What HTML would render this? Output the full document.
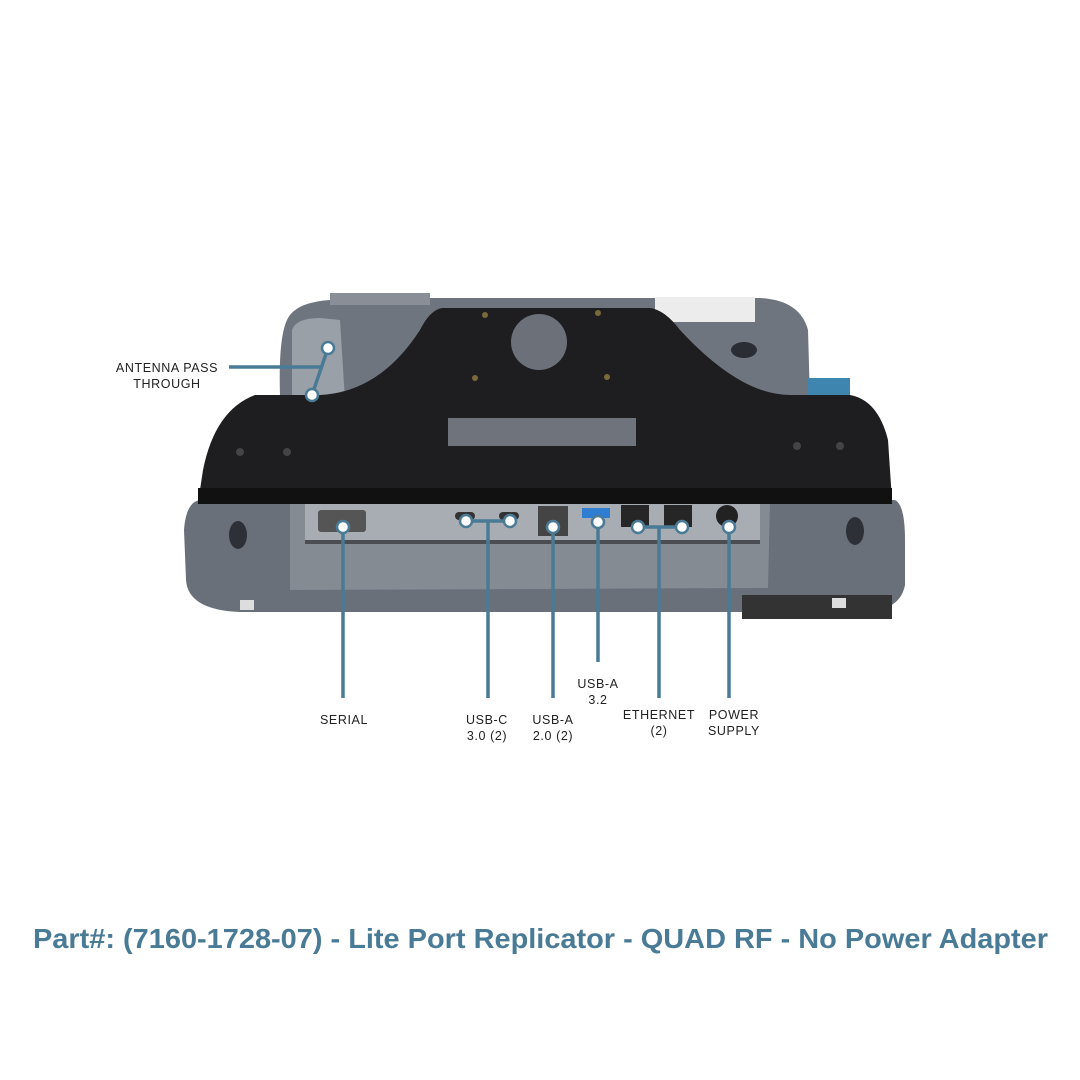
<!DOCTYPE html>
<html><head><meta charset="utf-8"><style>
html,body{margin:0;padding:0;background:#fff;}
svg{display:block}
text{font-family:"Liberation Sans",sans-serif;}
</style></head><body>
<svg width="1080" height="1080" viewBox="0 0 1080 1080" xmlns="http://www.w3.org/2000/svg">
<rect width="1080" height="1080" fill="#fff"/>
<!-- back body -->
<path d="M330 300 L430 294 L430 298 L760 298 Q800 300 808 330 L810 400 L300 400 L280 395 Q278 330 290 315 Q300 302 330 300 Z" fill="#6f757f"/>
<rect x="330" y="293" width="100" height="12" fill="#8a8f97"/>
<rect x="655" y="297" width="100" height="25" fill="#ececec"/>
<path d="M292 330 Q296 318 320 318 L340 320 L345 400 L292 400 Z" fill="#9aa0a8"/>
<rect x="808" y="378" width="42" height="40" fill="#3e86b0"/>
<ellipse cx="744" cy="350" rx="13" ry="8" fill="#2a2d33"/>
<!-- front body -->
<path d="M200 500 L895 500 Q905 505 905 540 L905 585 Q900 612 860 612 L240 612 Q188 610 186 580 L184 530 Q186 502 200 500 Z" fill="#6a707a"/>
<rect x="742" y="595" width="150" height="24" fill="#333"/>
<path d="M290 500 L770 500 L768 588 L290 590 Z" fill="#858b93"/>
<rect x="305" y="503" width="455" height="40" fill="#a8adb3"/>
<rect x="305" y="540" width="455" height="4" fill="#4a4d52"/>
<ellipse cx="238" cy="535" rx="9" ry="14" fill="#2d3036"/>
<ellipse cx="855" cy="531" rx="9" ry="14" fill="#2d3036"/>
<rect x="240" y="600" width="14" height="10" fill="#ddd"/>
<rect x="832" y="598" width="14" height="10" fill="#ddd"/>
<!-- ports -->
<rect x="318" y="510" width="48" height="22" rx="3" fill="#555"/>
<rect x="455" y="512" width="20" height="8" rx="4" fill="#333"/>
<rect x="499" y="512" width="20" height="8" rx="4" fill="#333"/>
<rect x="538" y="506" width="30" height="30" fill="#444"/>
<rect x="582" y="508" width="28" height="10" fill="#2f7dd0"/>
<rect x="621" y="505" width="28" height="22" fill="#262626"/>
<rect x="664" y="505" width="28" height="22" fill="#262626"/>
<circle cx="727" cy="516" r="11" fill="#222"/>
<!-- black plate -->
<path d="M442 308 L650 308 Q665 310 680 330 Q740 395 790 395 L850 395 Q878 400 888 440 L892 500 L198 503 L203 470 Q215 410 255 395 L320 395 Q380 392 420 330 Q430 310 442 308 Z" fill="#1e1e20"/>
<rect x="198" y="488" width="694" height="16" fill="#111"/>
<circle cx="539" cy="342" r="28" fill="#6b7079"/>
<rect x="448" y="418" width="188" height="28" fill="#6e737c"/>
<circle cx="485" cy="315" r="3" fill="#7a6a3a"/><circle cx="598" cy="313" r="3" fill="#7a6a3a"/>
<circle cx="475" cy="378" r="3" fill="#7a6a3a"/><circle cx="607" cy="377" r="3" fill="#7a6a3a"/>
<circle cx="240" cy="452" r="4" fill="#444"/><circle cx="287" cy="452" r="4" fill="#444"/>
<circle cx="797" cy="446" r="4" fill="#444"/><circle cx="840" cy="446" r="4" fill="#444"/>
<!-- connectors -->
<g stroke="#4a7b96" stroke-width="3.5" fill="none">
<line x1="229" y1="367" x2="322" y2="367"/>
<line x1="328" y1="348" x2="312" y2="395"/>
<line x1="343" y1="527" x2="343" y2="698"/>
<line x1="466" y1="521" x2="510" y2="521"/>
<line x1="488" y1="521" x2="488" y2="698"/>
<line x1="553" y1="527" x2="553" y2="698"/>
<line x1="598" y1="522" x2="598" y2="662"/>
<line x1="638" y1="527" x2="682" y2="527"/>
<line x1="659" y1="527" x2="659" y2="698"/>
<line x1="729" y1="527" x2="729" y2="698"/>
</g>
<g fill="#fff" stroke="#4a7b96" stroke-width="2.5">
<circle cx="328" cy="348" r="6"/><circle cx="312" cy="395" r="6"/>
<circle cx="343" cy="527" r="6"/><circle cx="466" cy="521" r="6"/><circle cx="510" cy="521" r="6"/>
<circle cx="553" cy="527" r="6"/><circle cx="598" cy="522" r="6"/>
<circle cx="638" cy="527" r="6"/><circle cx="682" cy="527" r="6"/><circle cx="729" cy="527" r="6"/>
</g>
<g font-size="12.5" fill="#222" text-anchor="middle" letter-spacing="0.6">
<text x="167" y="372">ANTENNA PASS</text><text x="167" y="388">THROUGH</text>
<text x="344" y="724">SERIAL</text>
<text x="487" y="724">USB-C</text><text x="487" y="740">3.0 (2)</text>
<text x="553" y="724">USB-A</text><text x="553" y="740">2.0 (2)</text>
<text x="598" y="688">USB-A</text><text x="598" y="704">3.2</text>
<text x="659" y="719">ETHERNET</text><text x="659" y="735">(2)</text>
<text x="734" y="719">POWER</text><text x="734" y="735">SUPPLY</text>
</g>
<text x="33" y="948" font-size="28" font-weight="bold" fill="#4a7b96" textLength="1015" lengthAdjust="spacingAndGlyphs">Part#:  (7160-1728-07) - Lite Port Replicator - QUAD RF - No Power Adapter</text>
</svg>
</body></html>
